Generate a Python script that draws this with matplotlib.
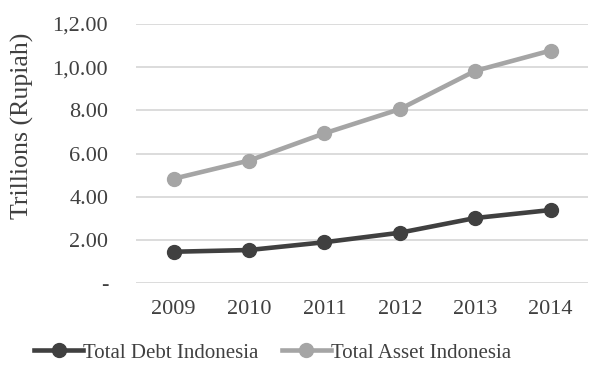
import matplotlib.pyplot as plt
from matplotlib.ticker import FixedLocator, FixedFormatter

years = ["2009", "2010", "2011", "2012", "2013", "2014"]
total_debt = [1.46, 1.54, 1.90, 2.34, 3.02, 3.39]
total_asset = [4.84, 5.68, 6.94, 8.06, 9.83, 10.77]
y_ticks = [0, 2, 4, 6, 8, 10, 12]
y_tick_labels = ["-", "2.00", "4.00", "6.00", "8.00", "1,0.00", "1,2.00"]

plt.rcParams["font.family"] = ["Liberation Serif", "DejaVu Serif"]

fig = plt.figure(figsize=(5.9, 3.71), dpi=100)
ax = fig.add_axes([0.2305, 0.2364, 0.7665, 0.6989])

x = range(len(years))
ax.plot(x, total_debt, color="#404040", lw=3.3, marker="o", ms=10,
        label="Total Debt Indonesia", zorder=3)
ax.plot(x, total_asset, color="#A5A5A5", lw=3.3, marker="o", ms=10,
        label="Total Asset Indonesia", zorder=3)

ax.set_xlim(-0.5, len(years) - 0.5)
ax.set_ylim(0, 12)
ax.set_xticks(list(x))
ax.set_xticklabels(years)
ax.yaxis.set_major_locator(FixedLocator(y_ticks))
ax.yaxis.set_major_formatter(FixedFormatter(y_tick_labels))
ax.grid(axis="y", color="#D9D9D9", lw=1.3)
ax.set_axisbelow(True)
for s in ax.spines.values():
    s.set_visible(False)
ax.tick_params(length=0, labelsize=16, colors="#404040")
ax.tick_params(axis="x", pad=12)
ax.tick_params(axis="y", pad=20)
ax.set_ylabel("Trillions (Rupiah)", fontsize=18.6, color="#404040",
              va="center")
ax.yaxis.set_label_coords(-0.25, 0.607)

fig.legend(loc="center", bbox_to_anchor=(0.462, 0.049), ncol=2,
           frameon=False, fontsize=15, handlelength=2.35, handletextpad=0.0,
           columnspacing=1.1, labelcolor="#404040")

fig.savefig("out.png", dpi=100)
